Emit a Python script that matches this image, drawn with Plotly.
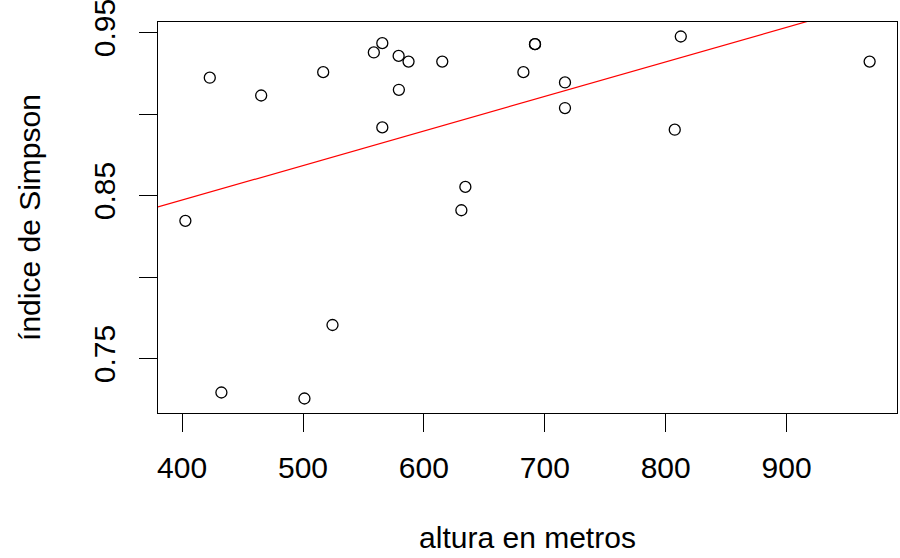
import numpy as np
import plotly.graph_objects as go

# altura en metros (x) and índice de Simpson (y)
altura = [402.7, 422.9, 432.5, 465.4, 501.2, 516.7, 524.4, 558.6, 565.6, 565.6,
          579.1, 579.3, 587.3, 615.2, 631.0, 634.3, 682.3, 691.9, 691.9, 716.7,
          716.7, 807.5, 812.5, 968.7]
simpson = [0.8345, 0.9223, 0.7292, 0.9114, 0.7255, 0.9257, 0.7706, 0.9378, 0.9435, 0.8918,
           0.9357, 0.9149, 0.9322, 0.9322, 0.8410, 0.8553, 0.9257, 0.9429, 0.9429, 0.9194,
           0.9037, 0.8904, 0.9476, 0.9322]

x_ticks = [400, 500, 600, 700, 800, 900]
y_ticks = [0.75, 0.80, 0.85, 0.90, 0.95]
y_ticklabels = ["0.75", "", "0.85", "", "0.95"]

x = np.array(altura)
y = np.array(simpson)

# R-style axis extension (4% each side)
xr = [x.min() - 0.04 * (x.max() - x.min()), x.max() + 0.04 * (x.max() - x.min())]
yr = [y.min() - 0.04 * (y.max() - y.min()), y.max() + 0.04 * (y.max() - y.min())]

slope, intercept = np.polyfit(x, y, 1)
line_x = np.array(xr)
line_y = intercept + slope * line_x

FONT = "Liberation Sans, Arial, sans-serif"
FS = 30

fig = go.Figure()
fig.add_trace(go.Scatter(
    x=x, y=y, mode="markers",
    marker=dict(symbol="circle-open", size=11, color="black", line=dict(width=1.3, color="black")),
    showlegend=False, hoverinfo="skip"))
fig.add_trace(go.Scatter(
    x=line_x, y=line_y, mode="lines",
    line=dict(color="red", width=1.2),
    showlegend=False, hoverinfo="skip"))

fig.update_layout(
    width=900, height=558,
    margin=dict(l=158, r=3, t=22, b=145),
    paper_bgcolor="white", plot_bgcolor="white",
    font=dict(family=FONT, size=FS, color="black"),
)
fig.update_xaxes(
    range=xr, tickvals=x_ticks, ticktext=[str(v) for v in x_ticks],
    showgrid=False, zeroline=False,
    showline=True, mirror=True, linecolor="black", linewidth=1.2,
    ticks="outside", ticklen=18, tickwidth=1.2, tickcolor="black",
    ticklabelstandoff=10,
    tickfont=dict(size=FS, family=FONT, color="black"),
    title=dict(text="altura en metros", font=dict(size=FS, family=FONT, color="black"), standoff=43),
    automargin=False,
)
fig.update_yaxes(
    range=yr, tickvals=y_ticks, ticktext=y_ticklabels,
    showgrid=False, zeroline=False,
    showline=True, mirror=True, linecolor="black", linewidth=1.2,
    ticks="outside", ticklen=18, tickwidth=1.2, tickcolor="black",
    tickangle=-90, ticklabelstandoff=12, ticklabeloverflow="allow",
    tickfont=dict(size=FS, family=FONT, color="black"),
    title=dict(text="índice de Simpson", font=dict(size=FS, family=FONT, color="black"), standoff=38),
    automargin=False,
)

fig.write_html("out.html", config={"displayModeBar": False},
               post_script="document.body.style.margin='0';")
